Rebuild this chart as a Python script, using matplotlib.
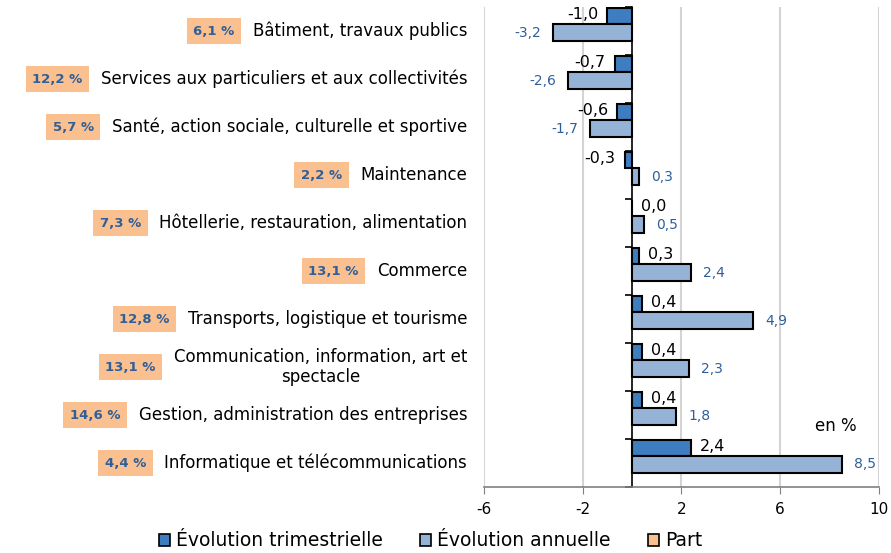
import matplotlib.pyplot as plt
from matplotlib.patches import Patch
import numpy as np

categories = [
    "Bâtiment, travaux publics",
    "Services aux particuliers et aux collectivités",
    "Santé, action sociale, culturelle et sportive",
    "Maintenance",
    "Hôtellerie, restauration, alimentation",
    "Commerce",
    "Transports, logistique et tourisme",
    "Communication, information, art et\nspectacle",
    "Gestion, administration des entreprises",
    "Informatique et télécommunications",
]
evol_trim = [-1.0, -0.7, -0.6, -0.3, 0.0, 0.3, 0.4, 0.4, 0.4, 2.4]
evol_annuelle = [-3.2, -2.6, -1.7, 0.3, 0.5, 2.4, 4.9, 2.3, 1.8, 8.5]
part = [6.1, 12.2, 5.7, 2.2, 7.3, 13.1, 12.8, 13.1, 14.6, 4.4]
xticks = [-6, -2, 2, 6, 10]

DARK = "#3F7DC1"
LIGHT = "#95B3D7"
ORANGE = "#FAC090"
LABEL_BLUE = "#2F5F98"

plt.rcParams["font.family"] = ["DejaVu Sans"]

fig = plt.figure(figsize=(8.91, 5.53), dpi=100)
ax = fig.add_axes([0.543, 0.1193, 0.4435, 0.8677])

y = np.arange(len(categories))
h = 0.34
ax.barh(y - 0.31, evol_trim, height=h, color=DARK, edgecolor="black", linewidth=1.5, zorder=3)
ax.barh(y + 0.03, evol_annuelle, height=h, color=LIGHT, edgecolor="black", linewidth=1.5, zorder=3)

ax.set_xlim(-6, 10)
ax.set_ylim(len(categories) - 0.5, -0.5)
ax.set_xticks(xticks)
ax.set_xticklabels([str(t) for t in xticks], fontsize=11)
for t in xticks:
    ax.axvline(t, color="#D4D4D4", linewidth=1.5, zorder=1)

for s in ["top", "right"]:
    ax.spines[s].set_visible(False)
ax.spines["bottom"].set_color("#808080")
ax.spines["bottom"].set_linewidth(1.2)
ax.tick_params(axis="x", direction="out", length=5, color="#808080", pad=6)
ax.spines["left"].set_position(("data", 0))
ax.spines["left"].set_linewidth(1.2)
ax.set_yticks(np.arange(len(categories) + 1) - 0.5)
ax.set_yticklabels([])
ax.tick_params(axis="y", direction="out", length=5, width=1.2)

def fmt(v):
    return f"{v:.1f}".replace(".", ",")

for i, v in enumerate(evol_trim):
    off = 6.5 if v >= 0 else -6.5
    ax.annotate(fmt(v), (v, i - 0.34), xytext=(off, 0), textcoords="offset points",
                ha="left" if v >= 0 else "right", va="center", fontsize=11.5, color="black", zorder=4)
for i, v in enumerate(evol_annuelle):
    off = 8.5 if v >= 0 else -8.5
    ax.annotate(fmt(v), (v, i + 0.03), xytext=(off, 0), textcoords="offset points",
                ha="left" if v >= 0 else "right", va="center", fontsize=10, color=LABEL_BLUE, zorder=4)

# libellés des catégories et boîtes "Part"
for i, (cat, p) in enumerate(zip(categories, part)):
    lab = ax.annotate(cat, (0, i), xycoords=("axes fraction", "data"), xytext=(-12, 0),
                      textcoords="offset points", ha="right", va="center",
                      multialignment="center", fontsize=12, annotation_clip=False)
    ax.annotate(fmt(p) + " %", (0, 0.5), xycoords=lab, xytext=(-13, 0),
                textcoords="offset points", ha="right", va="center", fontsize=9.5,
                fontweight="bold", color=LABEL_BLUE,
                bbox=dict(boxstyle="square,pad=0.5", facecolor=ORANGE, edgecolor="none"))

ax.text(0.89, 0.127, "en %", transform=ax.transAxes, ha="center", va="center", fontsize=12)

handles = [
    Patch(facecolor=DARK, edgecolor="black", linewidth=1.2, label="Évolution trimestrielle"),
    Patch(facecolor=LIGHT, edgecolor="black", linewidth=1.2, label="Évolution annuelle"),
    Patch(facecolor=ORANGE, edgecolor="black", linewidth=1.2, label="Part"),
]
fig.legend(handles=handles, loc="center", bbox_to_anchor=(0.483, 0.022), ncol=3, frameon=False,
           fontsize=13.5, handlelength=0.6, handleheight=0.6, handletextpad=0.3, columnspacing=2.0)

fig.savefig("out.png", dpi=100)
